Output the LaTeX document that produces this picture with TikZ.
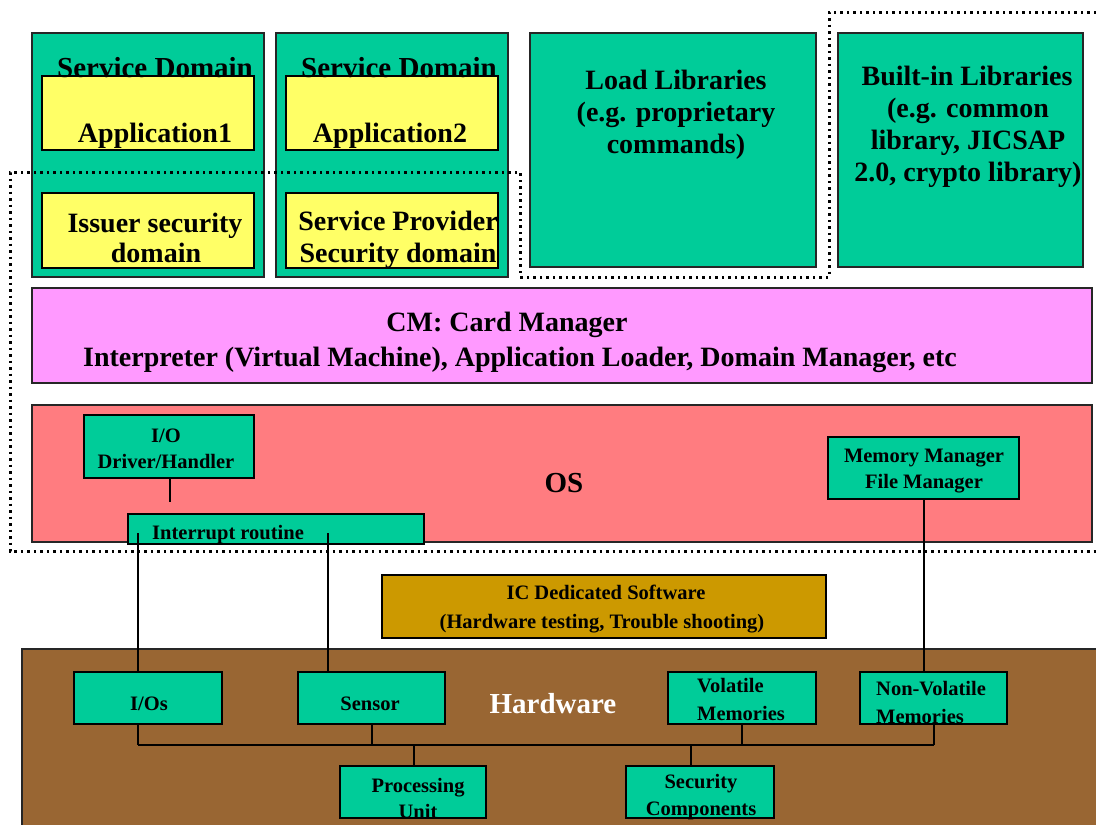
\documentclass[tikz,border=0pt]{standalone}
\usepackage{fontspec}
\setmainfont{Liberation Serif}
\definecolor{teal}{HTML}{00CC99}
\definecolor{appyellow}{HTML}{FFFF66}
\definecolor{cmpink}{HTML}{FF99FF}
\definecolor{osred}{HTML}{FF7C80}
\definecolor{icgold}{HTML}{CC9900}
\definecolor{hwbrown}{HTML}{996633}
\tikzset{
  sz/.style 2 args={minimum width=#1pt, minimum height=#2pt},
  panel/.style={draw=black!85, line width=1.3pt, inner sep=0pt, outer sep=0pt},
  unit/.style={draw=black, line width=1.8pt, inner sep=0pt, outer sep=0pt},
  bigtxt/.style={inner sep=0pt, anchor=base, font=\fontsize{28}{31}\selectfont\bfseries},
  smalltxt/.style={inner sep=0pt, anchor=base, font=\fontsize{20.5}{26}\selectfont\bfseries},
  wire/.style={draw=black, line width=1.6pt},
  boundary/.style={draw=black, line width=3pt, dash pattern=on 2.5pt off 4pt}
}
\begin{document}
\begin{tikzpicture}[x=1pt, y=-1pt]
\useasboundingbox (0,0) rectangle (1096,825);

% ---- service domains ----
\node[panel, fill=teal, sz={232}{244}] (sd1) at (148,155) {};
\node[panel, fill=teal, sz={232}{244}] (sd2) at (392,155) {};
\node[unit, fill=appyellow, sz={212}{74}] (app1) at (148,113) {};
\node[unit, fill=appyellow, sz={212}{75}] (isd) at (148,230.5) {};
\node[unit, fill=appyellow, sz={212}{74}] (app2) at (392,113) {};
\node[unit, fill=appyellow, sz={212}{75}] (spsd) at (392,230.5) {};
\node[bigtxt, font=\fontsize{29}{31}\selectfont\bfseries] (sd1t) at (155,77) {Service Domain};
\node[bigtxt, font=\fontsize{29}{31}\selectfont\bfseries] (sd2t) at (399,77) {Service Domain};
\node[bigtxt] (app1t) at (155,142) {Application1};
\node[bigtxt] (app2t) at (390,142) {Application2};
\node[bigtxt] (isdt1) at (155,232) {Issuer security};
\node[bigtxt] (isdt2) at (156,262) {domain};
\node[bigtxt] (spsdt1) at (398,230) {Service Provider};
\node[bigtxt] (spsdt2) at (398,262) {Security domain};

% ---- libraries ----
\node[panel, fill=teal, sz={286}{234}] (loadlib) at (673,150) {};
\node[bigtxt] (loadt1) at (676,89) {Load Libraries};
\node[bigtxt] (loadt2) at (676,121) {(e.g. proprietary};
\node[bigtxt] (loadt3) at (676,153) {commands)};
\node[panel, fill=teal, sz={245}{234}] (builtin) at (960.5,150) {};
\node[bigtxt] (bit1) at (967,85) {Built-in Libraries};
\node[bigtxt] (bit2) at (968,117) {(e.g. common};
\node[bigtxt] (bit3) at (968,149) {library, JICSAP};
\node[bigtxt] (bit4) at (968,181) {2.0, crypto library)};

% ---- card manager ----
\node[panel, fill=cmpink, sz={1060}{95}] (cm) at (562,335.5) {};
\node[bigtxt] (cmt1) at (507,331) {CM: Card Manager};
\node[bigtxt] (cmt2) at (520,366) {Interpreter (Virtual Machine), Application Loader, Domain Manager, etc};

% ---- operating system ----
\node[panel, fill=osred, sz={1060}{137}] (os) at (562,473.5) {};
\node[bigtxt, font=\fontsize{29}{31}\selectfont\bfseries] (ost) at (564,492) {OS};
\node[unit, fill=teal, sz={170}{63}] (drv) at (169,446.5) {};
\node[smalltxt] (drvt1) at (166,442) {I/O};
\node[smalltxt] (drvt2) at (166,468) {Driver/Handler};
\node[unit, fill=teal, sz={296}{30}] (irq) at (276,529) {};
\node[smalltxt, anchor=base west] (irqt) at (152,539) {Interrupt routine};
\node[unit, fill=teal, sz={191}{62}] (mem) at (923.5,468) {};
\node[smalltxt] (memt1) at (924,462) {Memory Manager};
\node[smalltxt] (memt2) at (924,488) {File Manager};

% ---- IC dedicated software ----
\node[unit, fill=icgold, sz={444}{63}] (ic) at (604,606.5) {};
\node[smalltxt] (ict1) at (606,599) {IC Dedicated Software};
\node[smalltxt] (ict2) at (602,628) {(Hardware testing, Trouble shooting)};

% ---- hardware ----
\node[panel, fill=hwbrown, sz={1100}{200}] (hw) at (572,749) {};
\node[bigtxt, text=white, font=\fontsize{29}{31}\selectfont\bfseries] (hwt) at (553,713) {Hardware};
\node[unit, fill=teal, sz={148}{52}] (ios) at (148,698) {};
\node[smalltxt] (iost) at (149,710) {I/Os};
\node[unit, fill=teal, sz={147}{52}] (sens) at (371.5,698) {};
\node[smalltxt] (senst) at (370,710) {Sensor};
\node[unit, fill=teal, sz={148}{52}] (vmem) at (742,698) {};
\node[smalltxt, anchor=base west] (vmemt1) at (697,692) {Volatile};
\node[smalltxt, anchor=base west] (vmemt2) at (697,720) {Memories};
\node[unit, fill=teal, sz={147}{52}] (nvm) at (933.5,698) {};
\node[smalltxt, anchor=base west] (nvmt1) at (876,695) {Non-Volatile};
\node[smalltxt, anchor=base west] (nvmt2) at (876,723) {Memories};
\node[unit, fill=teal, sz={146}{52}] (cpu) at (413,792) {};
\node[smalltxt] (cput1) at (418,792) {Processing};
\node[smalltxt] (cput2) at (418,818) {Unit};
\node[unit, fill=teal, sz={148}{52}] (sec) at (700,792) {};
\node[smalltxt] (sect1) at (701,788) {Security};
\node[smalltxt] (sect2) at (701,815) {Components};

% ---- connectors ----
\coordinate (drvend) at (170,502);
\draw[wire] (drvend |- drv.south) -- (drvend);
\coordinate (irqA) at (138,533);
\coordinate (irqB) at (328,533);
\draw[wire] (irqA) -- (irqA |- ios.north);
\draw[wire] (irqB) -- (irqB |- sens.north);
\coordinate (memdrop) at (924,672);
\draw[wire] (memdrop |- mem.south) -- (memdrop |- nvm.north);

\coordinate (busL) at (138,745);
\coordinate (busR) at (934,745);
\coordinate (sensdrop) at (372,745);
\coordinate (cpuup) at (414,745);
\coordinate (secup) at (691,745);
\draw[wire] (busL) -- (busR);
\draw[wire] (busL |- ios.south) -- (busL);
\draw[wire] (sensdrop |- sens.south) -- (sensdrop);
\draw[wire] (vmem.south) -- (vmem.south |- busL);
\draw[wire] (busR |- nvm.south) -- (busR);
\draw[wire] (cpuup) -- (cpuup |- cpu.north);
\draw[wire] (secup) -- (secup |- sec.north);

% ---- dotted boundary of the card platform ----
\draw[boundary] (1096,12) -- (829,12) -- (829,277) -- (520,277) -- (520,172)
  -- (10,172) -- (10,551) -- (1096,551);
\end{tikzpicture}
\end{document}
